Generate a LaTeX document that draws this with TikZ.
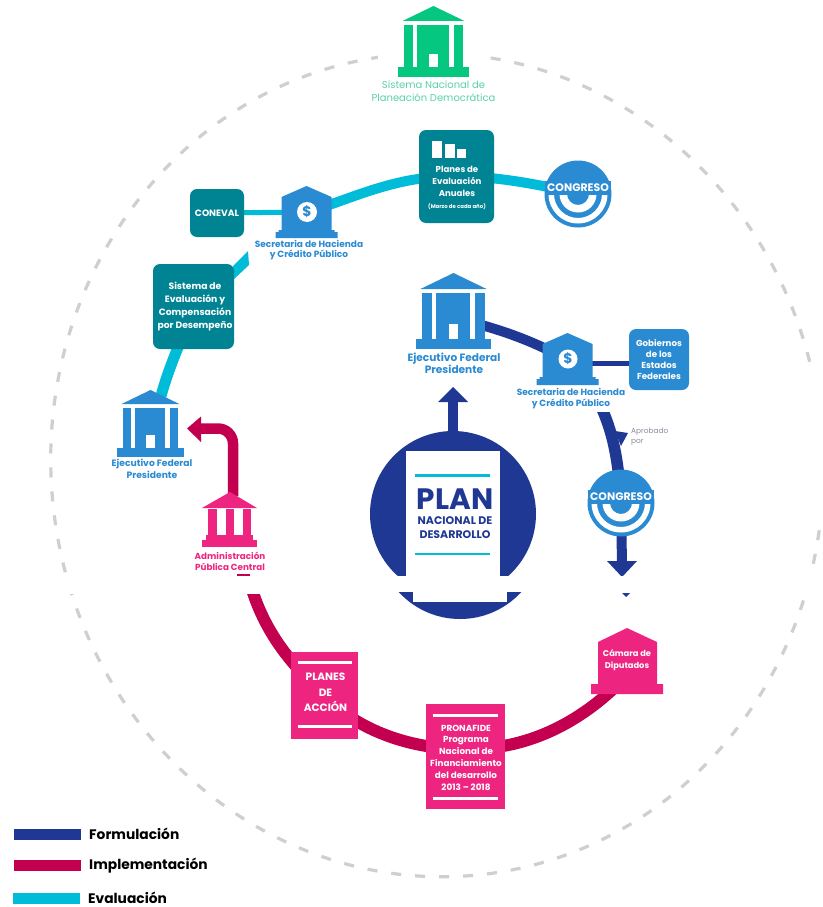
\documentclass[tikz,border=0pt]{standalone}
\usepackage{fontspec}
\setmainfont{Poppins}
\usetikzlibrary{shapes.geometric}
\definecolor{navy}{HTML}{1F3893}
\definecolor{azul}{HTML}{2A8BD2}
\definecolor{teal2}{HTML}{008493}
\definecolor{cian}{HTML}{00BCD8}
\definecolor{crim}{HTML}{C2004F}
\definecolor{rosa}{HTML}{EE2580}
\definecolor{verde}{HTML}{05C77F}
\definecolor{verdet}{HTML}{5AD3A5}
\definecolor{gris}{HTML}{CFCFCF}
\definecolor{grist}{HTML}{8C8CA0}
\newcommand{\fsz}[1]{\fontsize{#1}{#1}\selectfont\lineskiplimit=-100pt\relax}
\newcommand{\templo}[4]{%
 \begin{scope}[shift={(#1,#2)},scale=#3]
  \fill[#4] (-31,15)--(0,0)--(31,15)--cycle;
  \fill[#4] (-29.5,19) rectangle (-20.5,61.5);
  \fill[#4] (20.5,19) rectangle (29.5,61.5);
  \fill[#4] (-16.5,19) rectangle (15.5,61.5);
  \fill[#4] (-35.5,61.5) rectangle (35.5,71);
  \fill[white] (-4.5,48) rectangle (4.5,61.5);
 \end{scope}}
\newcommand{\banco}[4]{% cx, apex y, colour, scale
 \begin{scope}[shift={(#1,#2)},scale=#4]
  \fill[#3] (0,0)--(25,11)--(25,44)--(28,44)--(28,46)--(31,46)--(31,52)--(-31,52)--(-31,46)--(-28,46)--(-28,44)--(-25,44)--(-25,11)--cycle;
 \end{scope}}
\newcommand{\congreso}[3]{%
 \node[congresonode] (#1) at (#2,#3) {};
 \fill[white] (#2-29.5,#3) arc[start angle=180,end angle=360,radius=29.5pt] -- (#2+24,#3) arc[start angle=360,end angle=180,radius=24pt] -- cycle;
 \fill[white] (#2-18.5,#3) arc[start angle=180,end angle=360,radius=18.5pt] -- (#2+11,#3) arc[start angle=360,end angle=180,radius=11pt] -- cycle;
 \fill[azul] (#2-33,#3-13) rectangle (#2+33,#3+1);
 \node[txt,text=white,font=\bfseries\fsz{10.9}] (#1t) at (#2,#3-6) {CONGRESO};}
\tikzset{
 congresonode/.style={circle,fill=azul,minimum size=67pt,inner sep=0pt},
 txt/.style={inner sep=0pt,align=center},
 tealbox/.style={fill=teal2,rounded corners=7pt,inner sep=0pt},
 bluebox/.style={fill=azul,rounded corners=7pt,inner sep=0pt},
 rosabox/.style={fill=rosa,inner sep=0pt},
 cyanline/.style={draw=cian,line width=10pt},
 navyline/.style={draw=navy,line width=10pt},
 crimline/.style={draw=crim,line width=12pt},
 whitebar/.style={draw=white,line width=3pt},
 legendbar/.style={inner sep=0pt,minimum width=67pt,minimum height=11pt},
 legendtxt/.style={inner sep=0pt,anchor=west,font=\bfseries\fsz{13.8}},
}
\begin{document}
\begin{tikzpicture}[x=1pt,y=-1pt]
\useasboundingbox (0,0) rectangle (822,907);
\fill[white] (0,0) rectangle (822,907);
% dashed ring
\draw[draw=gris,line width=3.2pt,dash pattern=on 10pt off 14pt,dash phase=6pt,rotate around={5.7:(437,465)}] (437,465) ellipse[x radius=386pt,y radius=412pt];
\fill[white] (378,40) rectangle (486,75);
\fill[white] (806,372) rectangle (835,528);
% positions
\coordinate (cong1) at (578,194);
\coordinate (plan) at (456.5,176.5);
\coordinate (tres1) at (307,212);
\coordinate (conev) at (217,213);
\coordinate (sistS) at (179,345);
\coordinate (execLtop) at (161,396);
\coordinate (execRr) at (478,324);
\coordinate (tres2) at (560,356);
\coordinate (gob) at (659,363);
\coordinate (tres2b) at (598,400);
\coordinate (cong2) at (621,503);
\coordinate (plancentre) at (453,514);
\coordinate (admtop) at (233,496);
\coordinate (admlow) at (250,583);
\coordinate (planesA) at (325,695);
\coordinate (pronaf) at (466,749);
\coordinate (camara) at (627,675);
% evaluation connectors
\draw[cyanline] (plan) .. controls (490,176) and (535,183) .. (cong1);
\draw[cyanline] (tres1) .. controls (350,200) and (395,175) .. (plan);
\draw[draw=cian,line width=5pt] (conev) -- (tres1);
\fill[cian] (248,251)--(249,265)--(233,280)--(233,266)--cycle;
\draw[draw=cian,line width=11pt] (sistS) .. controls (172,362) and (166,378) .. (execLtop);
% formulation connectors
\draw[navyline] (execRr) .. controls (503,331) and (530,340) .. (tres2);
\draw[draw=navy,line width=5pt] (tres2 |- gob) -- (gob);
\begin{scope}
 \clip (585,412) rectangle (640,500);
 \draw[navyline,line width=11.5pt] (tres2b) .. controls (610,425) and (618,450) .. (cong2);
\end{scope}
\fill[navy] (615,431)--(628,433)--(621,446)--cycle;
\draw[draw=navy,line width=10pt] (cong2) -- (622,565);
\fill[navy] (607,561)--(637,561)--(622,577)--cycle;
% arrow from plan to executive
\draw[draw=navy,line width=10.5pt] (plancentre) -- (453,398);
\fill[navy] (438,402)--(453,387)--(468,402)--cycle;
% implementation connectors
\draw[crimline] (admlow) .. controls (262,625) and (285,660) .. (planesA);
\draw[crimline] (planesA) .. controls (350,725) and (405,750) .. (pronaf);
\draw[crimline] (pronaf) .. controls (530,750) and (585,720) .. (camara);
\draw[draw=crim,line width=10.5pt,rounded corners=15pt] (admtop) -- (233,428.5) -- (198,428.5);
\fill[crim] (201,416.5)--(187,428.5)--(201,442)--cycle;
\fill[crim] (237,573.5) rectangle (250,576);
% top temple
\templo{433.5}{6}{1}{verde}
\node[txt,text=verdet,font=\fsz{10}] (sn) at (433.5,91.5) {Sistema Nacional de\\[3pt]Planeación Democrática};
% Planes de evaluacion
\node[tealbox,minimum width=75pt,minimum height=93pt] (planbox) at (plan) {};
\fill[white] (432,141) rectangle (442,158);
\fill[white] (445,144) rectangle (455,158);
\fill[white] (457,149) rectangle (466,158);
\node[txt,text=white,font=\bfseries\fsz{8.6}] (pt) at (457,181.5) {Planes de\\[3.2pt]Evaluación\\[3.2pt]Anuales};
\node[txt,text=white,font=\bfseries\fsz{5.4}] (pm) at (457,207) {(Marzo de cada año)};
\congreso{c1}{578}{194}
% CONEVAL
\node[tealbox,minimum width=54pt,minimum height=48pt,text=white,font=\bfseries\fsz{9.2}] (cn) at (217,213) {CONEVAL};
% Secretaria left
\banco{306.5}{186}{azul}{1}
\node[circle,fill=white,minimum size=20pt,inner sep=0pt,text=azul,font=\bfseries\fsz{14}] (d1) at (307,212) {\$};
\node[txt,text=azul,font=\bfseries\fsz{9}] (s1) at (309,250) {Secretaria de Hacienda\\[1.4pt]y Crédito Público};
% Sistema de evaluacion
\node[tealbox,minimum width=81pt,minimum height=85pt] (sist) at (193.5,306.5) {};
\node[txt,text=white,font=\bfseries\fsz{9.2}] (st) at (195,306.5) {Sistema de\\[3.8pt]Evaluación y\\[3.8pt]Compensación\\[3.8pt]por Desempeño};
% Ejecutivo left
\templo{150.5}{390}{0.94}{azul}
\node[txt,text=azul,font=\bfseries\fsz{9.2}] (el) at (152,469) {Ejecutivo Federal\\[2.3pt]Presidente};
% Admin
\fill[rosa] (202,508)--(230,492)--(257,508)--cycle;
\fill[rosa] (208,509) rectangle (217,536);
\fill[rosa] (226,509) rectangle (234,536);
\fill[rosa] (243,509) rectangle (251,536);
\fill[rosa] (206,535) rectangle (253,541);
\fill[rosa] (202,540) rectangle (257,547);
\node[txt,text=rosa,font=\bfseries\fsz{8.8}] (ad) at (230,561.5) {Administración\\[2.2pt]Pública Central};
% Ejecutivo right
\templo{453.5}{273}{1.07}{azul}
\node[txt,text=azul,font=\bfseries\fsz{10.6}] (er) at (454,363) {Ejecutivo Federal\\[1.7pt]Presidente};
% Secretaria right
\banco{567.5}{333}{azul}{1}
\node[circle,fill=white,minimum size=19pt,inner sep=0pt,text=azul,font=\bfseries\fsz{14}] (d2) at (568,359) {\$};
\node[txt,text=azul,font=\bfseries\fsz{9}] (s2) at (571,398.5) {Secretaria de Hacienda\\[1.4pt]y Crédito Público};
% Gobiernos
\node[bluebox,minimum width=60pt,minimum height=61pt] (go) at (659,359.5) {};
\node[txt,text=white,font=\bfseries\fsz{8.7}] (gt) at (659,359.5) {Gobiernos\\[2.3pt]de los\\[2.3pt]Estados\\[2.3pt]Federales};
\node[txt,anchor=west,align=left,text=grist,font=\fsz{7.4}] (ap) at (631,437) {Aprobado\\[2.6pt]por};
\congreso{c2}{621}{503}
% Plan circle and document
\node[circle,fill=navy,minimum size=166pt,inner sep=0pt] (plc) at (plancentre) {};
\node[fill=white,inner sep=0pt,minimum width=94pt,minimum height=145pt] (doc) at (453,523.5) {};
\draw[draw=cian,line width=2.8pt] (415,475.5) -- (490,475.5);
\draw[draw=cian,line width=2.8pt] (415,554) -- (490,554);
\node[txt,text=navy,font=\bfseries\fsz{29.5}] (pl) at (455,499.5) {PLAN};
\node[txt,text=navy,font=\bfseries\fsz{11}] (pn) at (455,527.5) {NACIONAL DE\\[3pt]DESARROLLO};
% spliced white band
\fill[white] (0,576) rectangle (822,594);
\begin{scope}
 \clip (380,592) rectangle (540,625);
 \node[circle,fill=navy,minimum size=166pt,inner sep=0pt] (plc2) at (460,536) {};
 \fill[white] (413,590) rectangle (507,602);
\end{scope}
\fill[navy] (622,593)--(630,593)--(626,597)--cycle;
% Camara
\fill[rosa] (627,628)--(657,642)--(657,684)--(663,684)--(663,694)--(591,694)--(591,684)--(598,684)--(598,642)--cycle;
\node[txt,text=white,font=\bfseries\fsz{8.3}] (cd) at (627,660.5) {Cámara de\\[3.4pt]Diputados};
% Planes de accion
\node[rosabox,minimum width=67pt,minimum height=87pt] (pa) at (324.5,695.5) {};
\draw[whitebar] (298,662.5) -- (352,662.5);
\draw[whitebar] (298,726.5) -- (352,726.5);
\node[txt,text=white,font=\bfseries\fsz{10.6}] (pat) at (325.5,692.5) {PLANES\\[4.9pt]DE\\[4.9pt]ACCIÓN};
% Pronafide
\node[rosabox,minimum width=79pt,minimum height=105pt] (pr) at (465.5,756.5) {};
\draw[whitebar] (433,715.5) -- (498,715.5);
\draw[whitebar] (433,798.5) -- (498,798.5);
\node[txt,text=white,font=\bfseries\fsz{8.8}] (prt) at (466,757.5) {PRONAFIDE\\[3pt]Programa\\[3pt]Nacional de\\[3pt]Financiamiento\\[3pt]del desarrollo\\[3pt]2013 – 2018};
% legend
\node[legendbar,fill=navy] (l1) at (47.5,834.5) {};
\node[legendtxt] (l1t) at (89,833.5) {Formulación};
\node[legendbar,fill=crim] (l2) at (47.5,865.5) {};
\node[legendtxt] (l2t) at (89,865.5) {Implementación};
\node[legendbar,fill=cian] (l3) at (46.5,898.5) {};
\node[legendtxt] (l3t) at (88,898) {Evaluación};
\end{tikzpicture}
\end{document}
